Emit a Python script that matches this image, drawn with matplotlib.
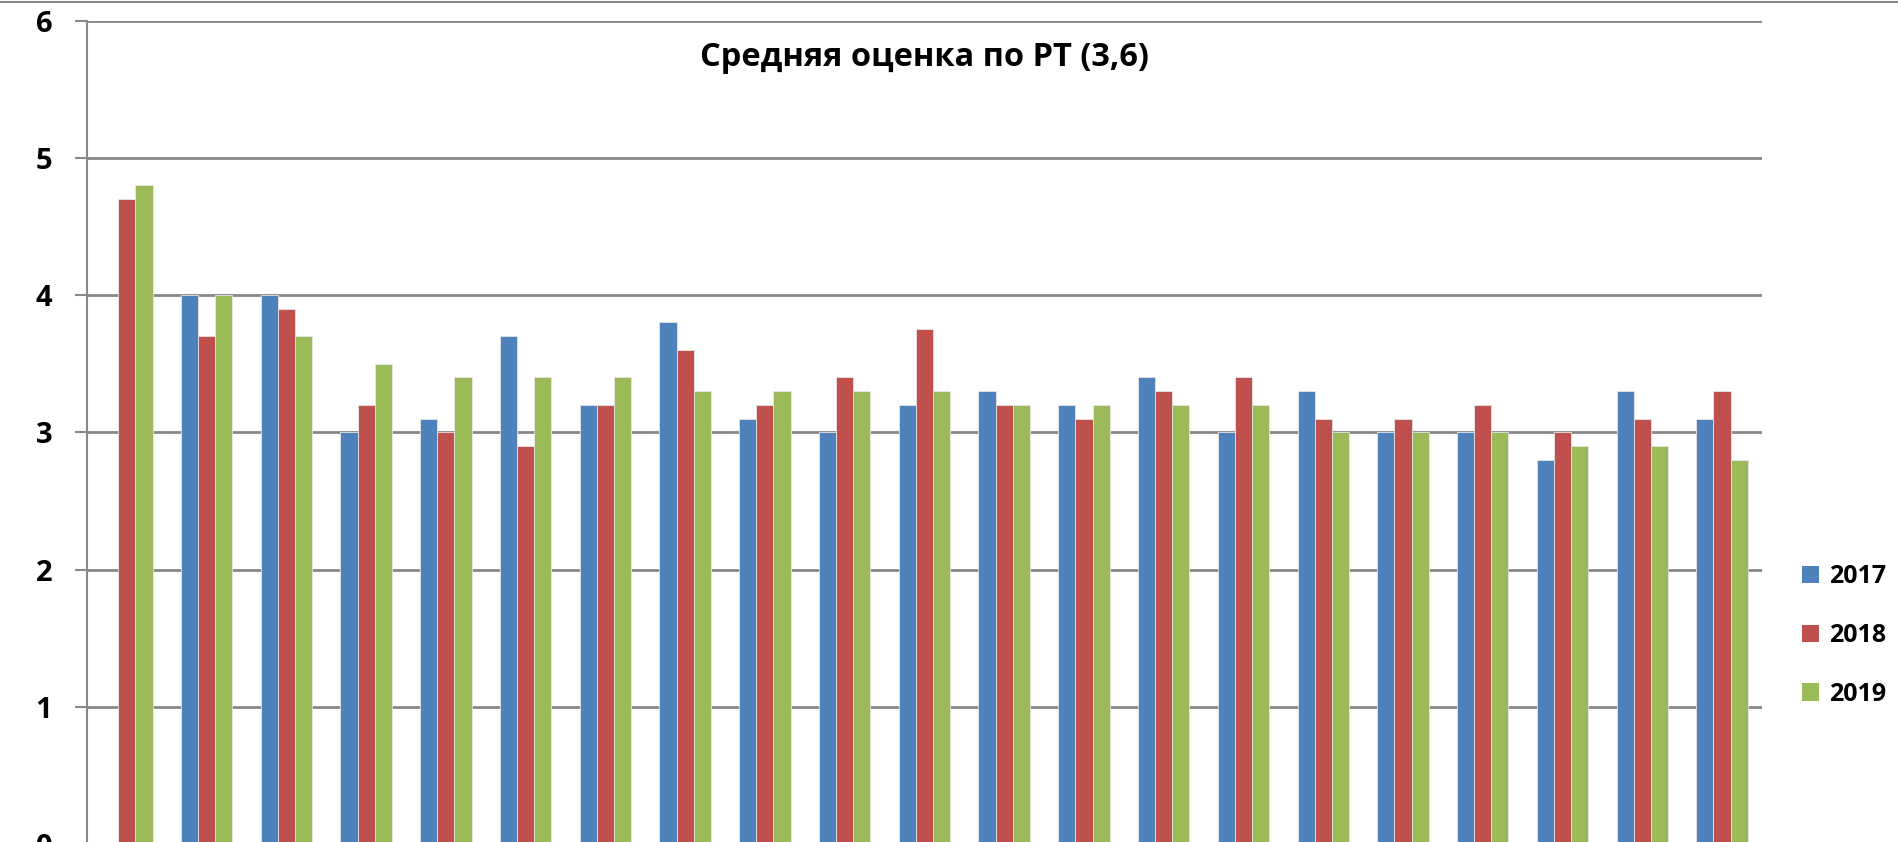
import numpy as np
import matplotlib.pyplot as plt
from matplotlib.patches import Patch

plt.rcParams['font.family'] = ['Open Sans', 'DejaVu Sans']

years = ["2017", "2018", "2019"]
colors = ["#4F81BD", "#C0504D", "#9BBB59"]

# 21 groups (category labels cut off in the reference)
v2017 = [0, 4.0, 4.0, 3.0, 3.1, 3.7, 3.2, 3.8, 3.1, 3.0, 3.2,
         3.3, 3.2, 3.4, 3.0, 3.3, 3.0, 3.0, 2.8, 3.3, 3.1]
v2018 = [4.7, 3.7, 3.9, 3.2, 3.0, 2.9, 3.2, 3.6, 3.2, 3.4, 3.75,
         3.2, 3.1, 3.3, 3.4, 3.1, 3.1, 3.2, 3.0, 3.1, 3.3]
v2019 = [4.8, 4.0, 3.7, 3.5, 3.4, 3.4, 3.4, 3.3, 3.3, 3.3, 3.3,
         3.2, 3.2, 3.2, 3.2, 3.0, 3.0, 3.0, 2.9, 2.9, 2.8]

series = [v2017, v2018, v2019]
n = len(v2017)
x = np.arange(n)
w = 0.215

fig = plt.figure(figsize=(18.99, 8.42), dpi=100)
ax = fig.add_axes([0.0458, -0.0024, 0.882, 0.978])

for i, vals in enumerate(series):
    ax.bar(x + (i - 1) * w, vals, width=w, color=colors[i],
           edgecolor="#e6e6e6", linewidth=0.6, zorder=3)

ax.set_xlim(-0.5, n - 0.5)
ax.set_ylim(0, 6)
ax.set_yticks(range(0, 7))
ax.yaxis.grid(True, color="#888888", linewidth=2, zorder=0)
ax.set_xticks([])
for s in ["top", "right", "bottom"]:
    ax.spines[s].set_visible(False)
ax.spines["left"].set_color("#888888")
ax.spines["left"].set_linewidth(1.5)
ax.tick_params(axis="y", length=9, width=1.5, color="#888888", pad=16,
               labelsize=21)
for lab in ax.get_yticklabels():
    lab.set_fontweight("bold")

ax.text(0.5, 0.955, "Средняя оценка по РТ (3,6)", transform=ax.transAxes,
        ha="center", va="center", fontsize=23.5, fontweight="bold")

# border line at the very top of the image
fig.add_artist(plt.Line2D([0, 1], [1 - 2 / 842, 1 - 2 / 842],
                          color="#888888", linewidth=1.5))

handles = [Patch(facecolor=c, edgecolor="none") for c in colors]
fig.legend(handles, years, loc="center left", bbox_to_anchor=(0.937, 0.245),
           frameon=False, prop={"size": 18, "weight": "bold"},
           handlelength=0.7, handleheight=0.7, handletextpad=0.4,
           labelspacing=1.35)

fig.savefig("out.png", dpi=100)
